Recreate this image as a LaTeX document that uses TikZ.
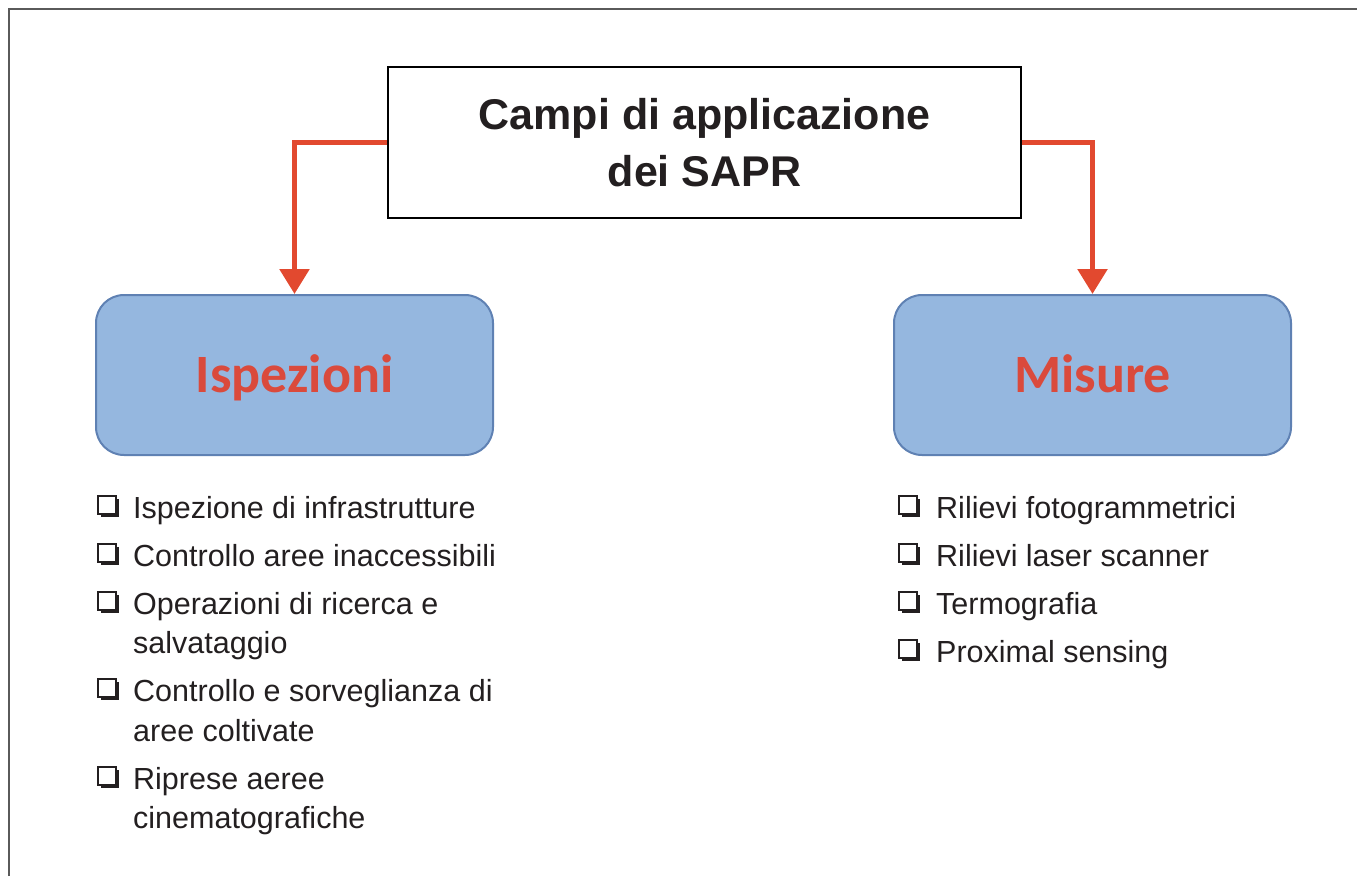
\documentclass[tikz,border=0pt]{standalone}
\usepackage{fontspec}
\setmainfont{Liberation Sans}
\newfontfamily\boxfont{Carlito}
\usepackage{tikz}
\usetikzlibrary{arrows.meta,shadows}
\definecolor{sapred}{HTML}{E2492F}
\definecolor{sapblue}{HTML}{95B7DF}
\definecolor{sapedge}{HTML}{5F81B3}
\definecolor{saptext}{HTML}{DA4A3C}
\definecolor{framegray}{HTML}{5A5A5A}
\definecolor{inkblack}{HTML}{231F20}
\begin{document}
\begin{tikzpicture}[x=1pt,y=-1pt,
	titlebox/.style={draw=black,line width=2pt,minimum width=633pt,minimum height=151pt,align=center,text=inkblack,font=\bfseries\fontsize{43}{57}\selectfont},
	fieldbox/.style={draw=sapedge,fill=sapblue,line width=2pt,rounded corners=28pt,minimum width=397pt,minimum height=160pt,text height=35pt,text depth=0pt,text=saptext,font=\boxfont\bfseries\fontsize{54}{60}\selectfont},
	branch/.style={draw=sapred,line width=5.5pt,-{Triangle[width=29pt,length=25pt]}},
	ckbox/.style={draw=inkblack,fill=white,line width=1.3pt,minimum size=18pt,inner sep=0pt,drop shadow={shadow xshift=3pt,shadow yshift=-3pt,fill=inkblack,opacity=1}},
	item/.style={anchor=base west,inner sep=0pt,text=inkblack,font=\fontsize{30.5}{39}\selectfont}]
					\useasboundingbox (0,0) rectangle (1357,876);
					% frame
					\draw [framegray,line width=2pt] (9,876) -- (9,9) -- (1357,9);
					% title and the two fields
					\node [titlebox] (title) at (704.5,142.5) {Campi di applicazione\\dei SAPR};
					\node [fieldbox] (ins) at (294.5,375) {Ispezioni};
					\node [fieldbox] (mis) at (1092.5,375) {Misure};
					\draw [branch] (title.west) -| (ins.north);
					\draw [branch] (title.east) -| (mis.north);
					% list under Ispezioni
					\node [ckbox] (ck1) at (107,505) {};
					\node [item] (ins1) at (133,518) {Ispezione di infrastrutture};
					\node [ckbox] (ck2) at (107,553) {};
					\node [item] (ins2) at (133,566) {Controllo aree inaccessibili};
					\node [ckbox] (ck3) at (107,601) {};
					\node [item] (ins3) at (133,614) {Operazioni di ricerca e};
					\node [item] (ins3b) at (133,653) {salvataggio};
					\node [ckbox] (ck4) at (107,688) {};
					\node [item] (ins4) at (133,701) {Controllo e sorveglianza di};
					\node [item] (ins4b) at (133,741) {aree coltivate};
					\node [ckbox] (ck5) at (107,776) {};
					\node [item] (ins5) at (133,789) {Riprese aeree};
					\node [item] (ins5b) at (133,828) {cinematografiche};
					% list under Misure
					\node [ckbox] (ck6) at (908,505) {};
					\node [item] (mis1) at (936,518) {Rilievi fotogrammetrici};
					\node [ckbox] (ck7) at (908,553) {};
					\node [item] (mis2) at (936,566) {Rilievi laser scanner};
					\node [ckbox] (ck8) at (908,601) {};
					\node [item] (mis3) at (936,614) {Termografia};
					\node [ckbox] (ck9) at (908,649) {};
					\node [item] (mis4) at (936,662) {Proximal sensing};
\end{tikzpicture}
\end{document}
